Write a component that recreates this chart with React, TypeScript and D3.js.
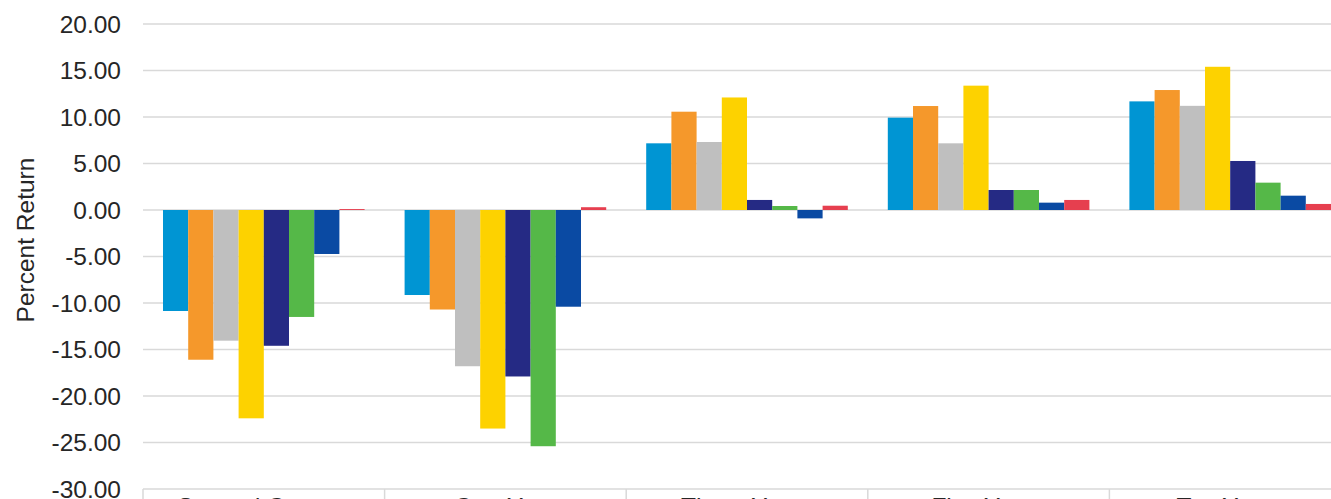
import React from "react";
import * as d3 from "d3";

// Period buckets along the x axis
const categories = ["Second Quarter", "One Year", "Three Years", "Five Years", "Ten Years"];

// One array per index/fund series, values are percent returns by period
const seriesNames = ["S1", "S2", "S3", "S4", "S5", "S6", "S7", "S8"];
const s1 = [-10.86, -9.14, 7.17, 9.93, 11.68];
const s2 = [-16.1, -10.7, 10.57, 11.18, 12.9];
const s3 = [-14.05, -16.8, 7.31, 7.17, 11.2];
const s4 = [-22.4, -23.5, 12.1, 13.37, 15.4];
const s5 = [-14.6, -17.9, 1.08, 2.15, 5.27];
const s6 = [-11.5, -25.4, 0.43, 2.15, 2.94];
const s7 = [-4.73, -10.4, -0.9, 0.79, 1.54];
const s8 = [0.1, 0.3, 0.46, 1.08, 0.65];
const seriesValues = [s1, s2, s3, s4, s5, s6, s7, s8];

const seriesColors = [
  "#0095d3",
  "#f5982b",
  "#bfbfbf",
  "#fdd200",
  "#252a84",
  "#55b848",
  "#0a4aa3",
  "#e63f4f",
];

const yTicks = [-30, -25, -20, -15, -10, -5, 0, 5, 10, 15, 20];

const W = 1331;
const H = 499;
const FONT = "'Liberation Sans', Arial, Helvetica, sans-serif";

export default function App() {
  const plotLeft = 143;
  const bandW = 241.6;
  const x0 = d3
    .scaleBand<string>()
    .domain(categories)
    .range([plotLeft, plotLeft + bandW * categories.length])
    .paddingInner(0)
    .paddingOuter(0);
  const x1 = d3
    .scaleBand<string>()
    .domain(seriesNames)
    .range([20, bandW - 20])
    .padding(0);
  const y = d3.scaleLinear().domain([-30, 20]).range([489, 24]);
  const fmt = (v: number) => v.toFixed(2);
  const plotRight = plotLeft + bandW * categories.length;

  return (
    <svg
      width={W}
      height={H}
      style={{ position: "absolute", left: 0, top: 0, display: "block", background: "#fff" }}
      fontFamily={FONT}
    >
      {/* horizontal gridlines */}
      {yTicks.map((t) => (
        <line
          key={"g" + t}
          x1={plotLeft}
          x2={plotRight}
          y1={y(t)}
          y2={y(t)}
          stroke="#d9d9d9"
          strokeWidth={1.5}
        />
      ))}
      {/* y tick labels */}
      {yTicks.map((t) => (
        <text
          key={"l" + t}
          x={121}
          y={y(t)}
          dy="0.36em"
          textAnchor="end"
          fontSize={24.5}
          fill="#262626"
        >
          {fmt(t)}
        </text>
      ))}
      {/* y axis title */}
      <text
        transform={`translate(34, ${240}) rotate(-90)`}
        textAnchor="middle"
        fontSize={24.5}
        fill="#262626"
      >
        Percent Return
      </text>
      {/* bars */}
      {categories.map((c, ci) => (
        <g key={c} transform={`translate(${x0(c)},0)`}>
          {seriesNames.map((s, si) => {
            const v = seriesValues[si][ci];
            const y0 = y(0);
            const yv = y(v);
            return (
              <rect
                key={s}
                x={x1(s)}
                width={x1.bandwidth()}
                y={Math.min(y0, yv)}
                height={Math.abs(yv - y0)}
                fill={seriesColors[si]}
              />
            );
          })}
        </g>
      ))}
      {/* category axis separators */}
      {categories.concat(["end"]).map((c, i) => {
        const xx = plotLeft + bandW * i;
        return (
          <line
            key={"t" + i}
            x1={xx}
            x2={xx}
            y1={y(-30)}
            y2={H + 20}
            stroke="#d9d9d9"
            strokeWidth={1.5}
          />
        );
      })}
      {/* category labels */}
      {categories.map((c) => (
        <text
          key={"c" + c}
          x={(x0(c) as number) + bandW / 2}
          y={515}
          textAnchor="middle"
          fontSize={24.5}
          fill="#262626"
        >
          {c}
        </text>
      ))}
    </svg>
  );
}
